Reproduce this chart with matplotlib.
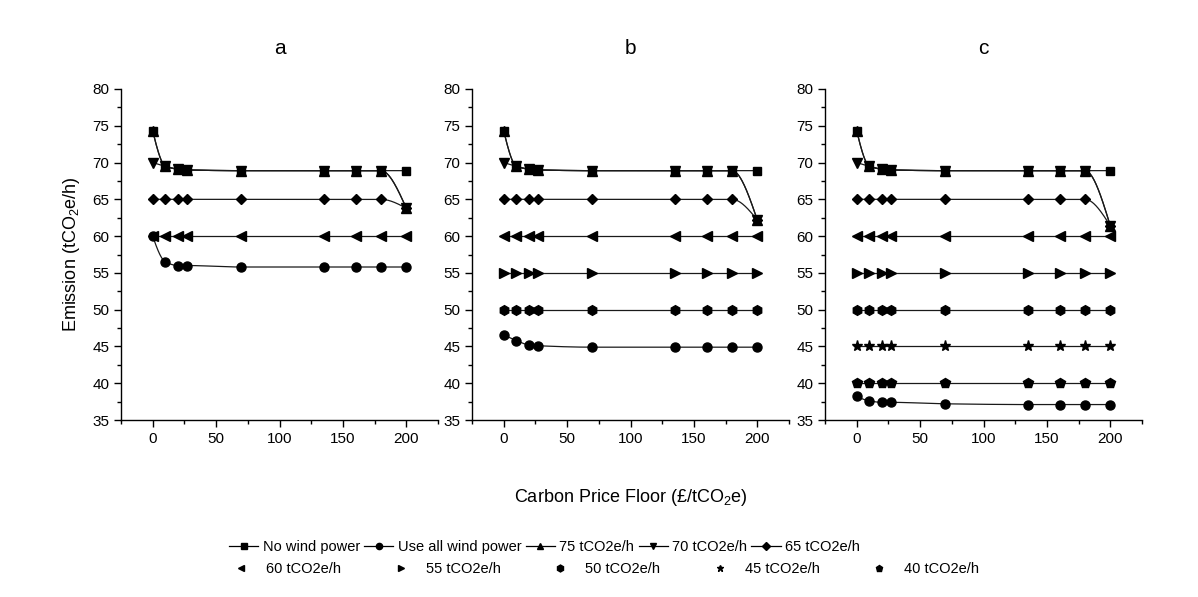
# Emission vs carbon price floor for three wind scenarios (panels a, b, c).
# Each panel shows the unconstrained cases plus the emission-cap series.

import matplotlib.pyplot as plt
import numpy as np
from matplotlib.lines import Line2D
from matplotlib.ticker import MultipleLocator

plt.rcParams["font.family"] = ["Liberation Sans", "DejaVu Sans"]
plt.rcParams["mathtext.fontset"] = "custom"
plt.rcParams["mathtext.rm"] = "Liberation Sans"

# carbon price floor (£/tCO2e), same for every series
price = [0, 10, 20, 27, 70, 135, 160, 180, 200]

labels = ["No wind power", "Use all wind power", "75 tCO2e/h", "70 tCO2e/h",
          "65 tCO2e/h", "60 tCO2e/h", "55 tCO2e/h", "50 tCO2e/h",
          "45 tCO2e/h", "40 tCO2e/h"]
markers = ["s", "o", "^", "v", "D", "<", ">", "h", "*", "p"]
msizes = [5.5, 6.5, 6.5, 6.5, 5.5, 6.5, 6.5, 7, 8, 7]

no_wind = [74.3, 69.5, 69.1, 69.0, 68.9, 68.9, 68.9, 68.9, 68.9]

# panel a
all_wind_a = [60.0, 56.5, 56.0, 56.0, 55.8, 55.8, 55.8, 55.8, 55.8]
cap75_a = [74.3, 69.5, 69.1, 69.0, 68.9, 68.9, 68.9, 68.9, 63.8]
cap70_a = [70.0, 69.5, 69.1, 69.0, 68.9, 68.9, 68.9, 68.9, 63.8]
cap65_a = [65, 65, 65, 65, 65, 65, 65, 65, 63.8]
cap60_a = [60, 60, 60, 60, 60, 60, 60, 60, 60]

# panel b
all_wind_b = [46.6, 45.8, 45.2, 45.1, 44.9, 44.9, 44.9, 44.9, 44.9]
cap75_b = [74.3, 69.5, 69.1, 69.0, 68.9, 68.9, 68.9, 68.9, 62.2]
cap70_b = [70.0, 69.5, 69.1, 69.0, 68.9, 68.9, 68.9, 68.9, 62.2]
cap65_b = [65, 65, 65, 65, 65, 65, 65, 65, 62.2]
cap60_b = [60, 60, 60, 60, 60, 60, 60, 60, 60]
cap55_b = [55, 55, 55, 55, 55, 55, 55, 55, 55]
cap50_b = [50, 50, 50, 50, 50, 50, 50, 50, 50]

# panel c
all_wind_c = [38.2, 37.6, 37.4, 37.4, 37.2, 37.1, 37.1, 37.1, 37.1]
cap75_c = [74.3, 69.5, 69.1, 69.0, 68.9, 68.9, 68.9, 68.9, 61.4]
cap70_c = [70.0, 69.5, 69.1, 69.0, 68.9, 68.9, 68.9, 68.9, 61.4]
cap65_c = [65, 65, 65, 65, 65, 65, 65, 65, 61.4]
cap60_c = [60, 60, 60, 60, 60, 60, 60, 60, 60]
cap55_c = [55, 55, 55, 55, 55, 55, 55, 55, 55]
cap50_c = [50, 50, 50, 50, 50, 50, 50, 50, 50]
cap45_c = [45, 45, 45, 45, 45, 45, 45, 45, 45]
cap40_c = [40, 40, 40, 40, 40, 40, 40, 40, 40]

panels = [
    ("a", [no_wind, all_wind_a, cap75_a, cap70_a, cap65_a, cap60_a,
           None, None, None, None]),
    ("b", [no_wind, all_wind_b, cap75_b, cap70_b, cap65_b, cap60_b,
           cap55_b, cap50_b, None, None]),
    ("c", [no_wind, all_wind_c, cap75_c, cap70_c, cap65_c, cap60_c,
           cap55_c, cap50_c, cap45_c, cap40_c]),
]


def pchip_curve(x, y, n=60):
    # monotone cubic through the points, used only for the drawn line
    x = np.asarray(x, float)
    y = np.asarray(y, float)
    h = np.diff(x)
    delta = np.diff(y) / h
    d = np.zeros_like(y)
    for k in range(1, len(x) - 1):
        if delta[k - 1] * delta[k] > 0:
            w1 = 2 * h[k] + h[k - 1]
            w2 = h[k] + 2 * h[k - 1]
            d[k] = (w1 + w2) / (w1 / delta[k - 1] + w2 / delta[k])
    for i, (j0, j1, hh0, hh1) in enumerate([(0, 1, h[0], h[1]), (-1, -2, h[-1], h[-2])]):
        dd = ((2 * hh0 + hh1) * delta[j0] - hh0 * delta[j1]) / (hh0 + hh1)
        if np.sign(dd) != np.sign(delta[j0]):
            dd = 0.0
        elif np.sign(delta[j0]) != np.sign(delta[j1]) and abs(dd) > abs(3 * delta[j0]):
            dd = 3 * delta[j0]
        d[0 if i == 0 else -1] = dd
    xs, ys = [], []
    for k in range(len(x) - 1):
        t = np.linspace(0, 1, n)
        h00 = 2 * t**3 - 3 * t**2 + 1
        h10 = t**3 - 2 * t**2 + t
        h01 = -2 * t**3 + 3 * t**2
        h11 = t**3 - t**2
        xs.append(x[k] + t * h[k])
        ys.append(h00 * y[k] + h10 * h[k] * d[k] + h01 * y[k + 1] + h11 * h[k] * d[k + 1])
    return np.concatenate(xs), np.concatenate(ys)


fig = plt.figure(figsize=(11.98, 5.97), dpi=100)

W, H = 1198, 597
lefts = [121, 472, 825]
ax_w, top, bottom = 317, 89, 420

for (name, series), left in zip(panels, lefts):
    ax = fig.add_axes([left / W, 1 - bottom / H, ax_w / W, (bottom - top) / H])
    for vals in series:
        if vals is None:
            continue
        cx, cy = pchip_curve(price, vals)
        ax.plot(cx, cy, color="#1a1a1a", lw=0.9, zorder=2)
    # reversed so that "No wind power" ends up on top
    for vals, m, ms in reversed(list(zip(series, markers, msizes))):
        if vals is None:
            continue
        ax.plot(price, vals, ls="none", marker=m, ms=ms, color="black", zorder=3)

    ax.set_xlim(-25, 225)
    ax.set_ylim(35, 80)
    ax.xaxis.set_major_locator(MultipleLocator(50))
    ax.xaxis.set_minor_locator(MultipleLocator(25))
    ax.yaxis.set_major_locator(MultipleLocator(5))
    ax.yaxis.set_minor_locator(MultipleLocator(2.5))
    ax.set_xticks([0, 50, 100, 150, 200])
    ax.spines["top"].set_visible(False)
    ax.spines["right"].set_visible(False)
    for sp in ("left", "bottom"):
        ax.spines[sp].set_linewidth(1.0)
    ax.tick_params(which="major", direction="out", length=5, width=1, labelsize=11)
    ax.tick_params(which="minor", direction="out", length=3, width=1)
    ax.patch.set_alpha(0)

    fig.text((left + ax_w / 2) / W, 1 - 48 / H, name, ha="center", va="center",
             fontsize=15)

fig.text(72 / W, 1 - 254 / H, r"Emission (tCO$_\mathregular{2}$e/h)", rotation=90,
         ha="center", va="center", fontsize=13)
fig.text(631 / W, 1 - 497 / H, r"Carbon Price Floor (£/tCO$_\mathregular{2}$e)",
         ha="center", va="center", fontsize=13)

row1 = [Line2D([], [], color="black", lw=0.9, marker=m, ms=4.5, label=l)
        for l, m in zip(labels[:5], markers[:5])]
row2 = [Line2D([], [], ls="none", color="black", marker=m, ms=5, label=l)
        for l, m in zip(labels[5:], markers[5:])]

fig.legend(handles=row1, loc="center left", bbox_to_anchor=(229 / W, 1 - 547 / H),
           ncol=5, frameon=False, fontsize=10.5, handlelength=2.0, handletextpad=0.3,
           columnspacing=0.3, borderpad=0, borderaxespad=0)
fig.legend(handles=row2, loc="center left", bbox_to_anchor=(234 / W, 1 - 569 / H),
           ncol=5, frameon=False, fontsize=10.5, handlelength=1.0, handletextpad=1.2,
           columnspacing=3.6, borderpad=0, borderaxespad=0)

fig.savefig("out.png", dpi=100, facecolor="white")
